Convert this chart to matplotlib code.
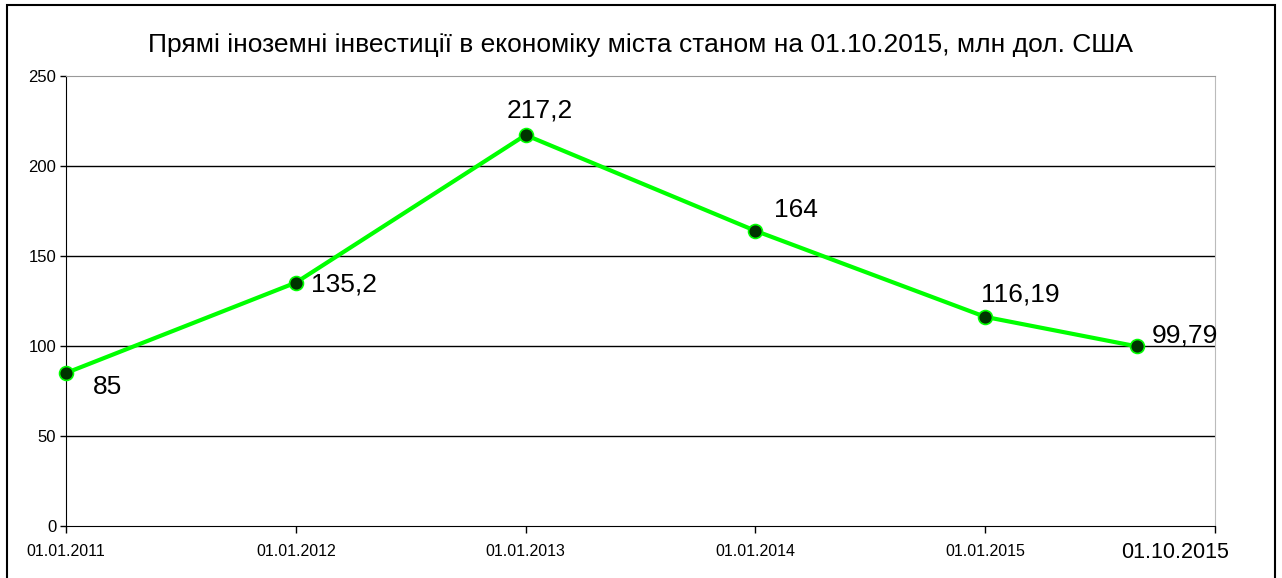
import matplotlib
matplotlib.use("Agg")
import matplotlib.pyplot as plt
from matplotlib.patches import Rectangle

plt.rcParams['font.family'] = ['Liberation Sans', 'DejaVu Sans']

title = "Прямі іноземні інвестиції в економіку міста станом на 01.10.2015, млн дол. США"
tick_labels = ["01.01.2011", "01.01.2012", "01.01.2013", "01.01.2014", "01.01.2015"]
tick_pos = [2011, 2012, 2013, 2014, 2015, 2016]
x_vals = [2011, 2012, 2013, 2014, 2015, 2015.66]
values = [85, 135.2, 217.2, 164, 116.19, 99.79]
value_labels = ["85", "135,2", "217,2", "164", "116,19", "99,79"]
last_label = "01.10.2015"
# label offsets in points (dx, dy) and alignment
offsets = [(30, -10, 'center'), (11, -1, 'left'), (10, 18, 'center'),
           (29, 15, 'center'), (25, 16, 'center'), (11, 8, 'left')]

fig = plt.figure(figsize=(12.82, 5.78), dpi=100)
fig.patches.append(Rectangle((7/1282, -0.01), (1275-7)/1282, (578-5)/578 + 0.01,
                             transform=fig.transFigure, fill=False, edgecolor='black',
                             linewidth=1.5))
ax = fig.add_axes([66/1282, 52/578, (1215-66)/1282, (526-76)/578])

ax.plot(x_vals, values, color='#00ff00', linewidth=3, marker='o', markersize=10,
        markerfacecolor='#003300', markeredgecolor='#00ff00', markeredgewidth=1.2,
        zorder=3, clip_on=False)

for x, v, lab, (dx, dy, ha) in zip(x_vals, values, value_labels, offsets):
    ax.annotate(lab, (x, v), xytext=(dx, dy), textcoords='offset points',
                ha=ha, va='center', fontsize=19, color='black')

ax.set_xlim(2011, 2016)
ax.set_ylim(0, 250)
ax.set_yticks([0, 50, 100, 150, 200, 250])
ax.set_xticks(tick_pos)
ax.set_xticklabels(tick_labels + [""])
ax.tick_params(axis='x', labelsize=11.5, length=5, width=1, pad=8, direction='out')
ax.tick_params(axis='y', labelsize=12, length=4, width=1, pad=3, direction='out')
ax.text(2016 - 0.175, -0.035, last_label, transform=ax.get_xaxis_transform(),
        ha='center', va='top', fontsize=15.5)

for yv in [50, 100, 150, 200]:
    ax.axhline(yv, color='black', linewidth=1, zorder=1)

ax.spines['top'].set_color('#999999')
ax.spines['right'].set_color('#bbbbbb')
ax.spines['left'].set_color('black')
ax.spines['bottom'].set_color('black')

fig.text(0.5, 1 - 45/578, title, ha='center', va='center', fontsize=19)

fig.savefig("out.png", dpi=100)
